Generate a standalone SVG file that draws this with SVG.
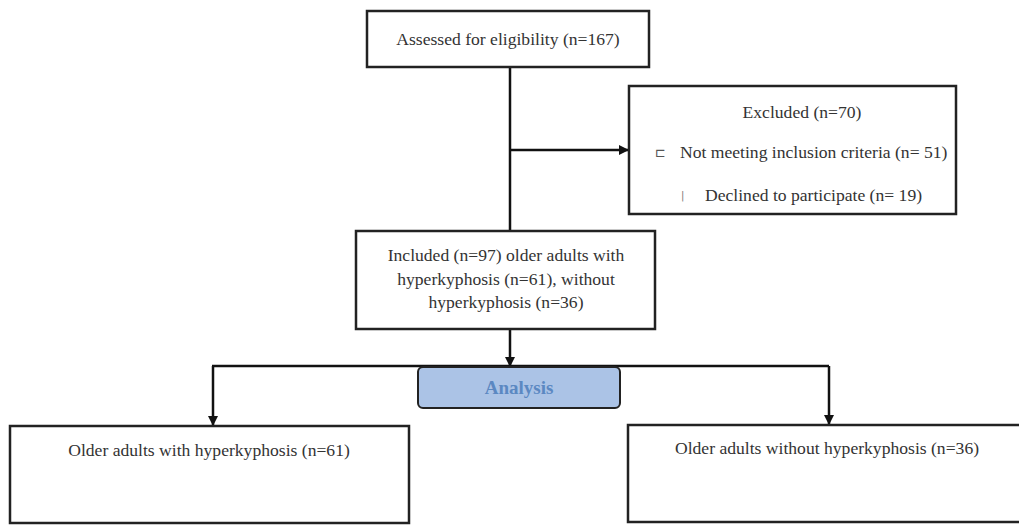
<svg xmlns="http://www.w3.org/2000/svg" width="1019" height="525" viewBox="0 0 1019 525">
<defs>
<marker id="arr" viewBox="0 0 10 10" refX="10" refY="5" markerWidth="10" markerHeight="10" markerUnits="userSpaceOnUse" orient="auto">
<path d="M0,0 L10,5 L0,10 z" fill="#111"/>
</marker>
</defs>
<style>
.box{fill:#fff;stroke:#222;stroke-width:2.5}
.t{font-family:'Liberation Serif','Times New Roman',serif;font-size:17.6px;fill:#333}
.c{text-anchor:middle}
.ln{stroke:#111;stroke-width:2.5;fill:none}
</style>
<rect width="1019" height="525" fill="#fff"/>
<g id="connectors">
<line class="ln" x1="510" y1="67" x2="510" y2="231"/>
<line class="ln" x1="510" y1="150" x2="629" y2="150" marker-end="url(#arr)"/>
<line class="ln" x1="510" y1="329" x2="510" y2="367" marker-end="url(#arr)"/>
<line class="ln" x1="212" y1="366" x2="829" y2="366" stroke-width="2"/>
<line class="ln" x1="213" y1="366" x2="213" y2="426" marker-end="url(#arr)"/>
<line class="ln" x1="829" y1="366" x2="829" y2="425" marker-end="url(#arr)"/>
</g>
<g id="assessed">
<rect class="box" x="367" y="11" width="282" height="56"/>
<text class="t c" x="508" y="45" font-family="Liberation Serif, serif">Assessed for eligibility (n=167)</text>
</g>
<g id="excluded">
<rect class="box" x="629" y="86" width="327" height="128"/>
<text class="t c" x="802" y="118" font-family="Liberation Serif, serif">Excluded (n=70)</text>
<text x="655" y="157" font-family="DejaVu Sans, sans-serif" font-size="13" fill="#555">⊏</text>
<text class="t" x="680" y="158" font-family="Liberation Serif, serif">Not meeting inclusion criteria (n= 51)</text>
<text x="681" y="199" font-family="DejaVu Sans, sans-serif" font-size="10" fill="#777">|</text>
<text class="t" x="705" y="201" font-family="Liberation Serif, serif">Declined to participate (n= 19)</text>
</g>
<g id="included">
<rect class="box" x="356" y="231" width="299" height="98"/>
<text class="t c" x="506" y="261" font-family="Liberation Serif, serif">Included (n=97) older adults with</text>
<text class="t c" x="506" y="285" font-family="Liberation Serif, serif">hyperkyphosis (n=61), without</text>
<text class="t c" x="506" y="308" font-family="Liberation Serif, serif">hyperkyphosis (n=36)</text>
</g>
<g id="analysis">
<rect x="418" y="367" width="202" height="41" rx="5" fill="#abc3e6" stroke="#222" stroke-width="2"/>
<text x="519" y="394" text-anchor="middle" font-family="Liberation Serif, serif" font-size="19" font-weight="bold" fill="#5b88c2">Analysis</text>
</g>
<g id="with">
<rect class="box" x="10" y="426" width="399" height="97"/>
<text class="t c" x="209" y="456" font-family="Liberation Serif, serif">Older adults with hyperkyphosis (n=61)</text>
</g>
<g id="without">
<rect class="box" x="628" y="425" width="400" height="97"/>
<text class="t c" x="827" y="454" font-family="Liberation Serif, serif">Older adults without hyperkyphosis (n=36)</text>
</g>
</svg>
